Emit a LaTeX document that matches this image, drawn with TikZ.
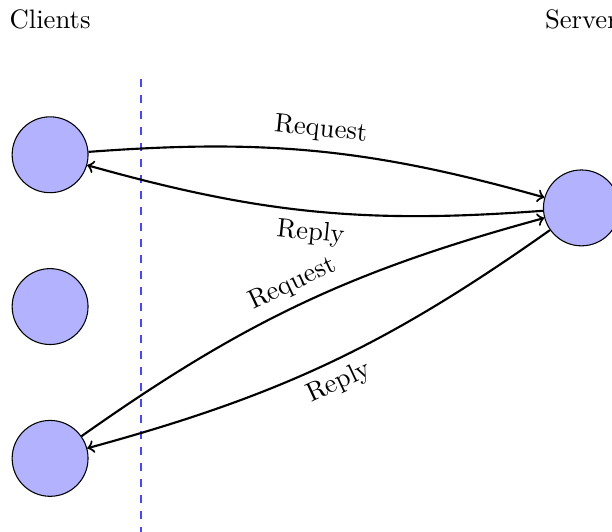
\documentclass[tikz,border=0pt]{standalone}
\definecolor{divblue}{RGB}{70,70,250}
\begin{document}
\begin{tikzpicture}[
  client/.style={circle, draw, fill=blue!30, minimum size=1cm, inner sep=0pt},
  msg/.style={->, thick},
  divider/.style={draw=divblue, dashed, line width=0.7pt}
]
\useasboundingbox (-0.66,-4.97) rectangle (7.403,2.039);
\coordinate (dtop) at (1.2,1);
\coordinate (dbot) at (1.2,-5);
\draw[divider] (dtop) -- (dbot);
\node[client] (c1) at (0,0) {};
\node[client] (c2) at (0,-2) {};
\node[client] (c3) at (0,-4) {};
\node[client] (s) at (7,-0.7) {};
\node[anchor=base] (cl) at (0,1.67) {Clients};
\node[anchor=base] (sv) at (7,1.67) {Server};
\draw[msg] (c1) to[bend left=10] node[sloped, above] {Request} (s);
\draw[msg] (s) to[bend left=10] node[sloped, below] {Reply} (c1);
\draw[msg] (c3) to[bend left=10] node[sloped, above] {Request} (s);
\draw[msg] (s) to[bend left=10] node[sloped, below] {Reply} (c3);
\end{tikzpicture}
\end{document}
